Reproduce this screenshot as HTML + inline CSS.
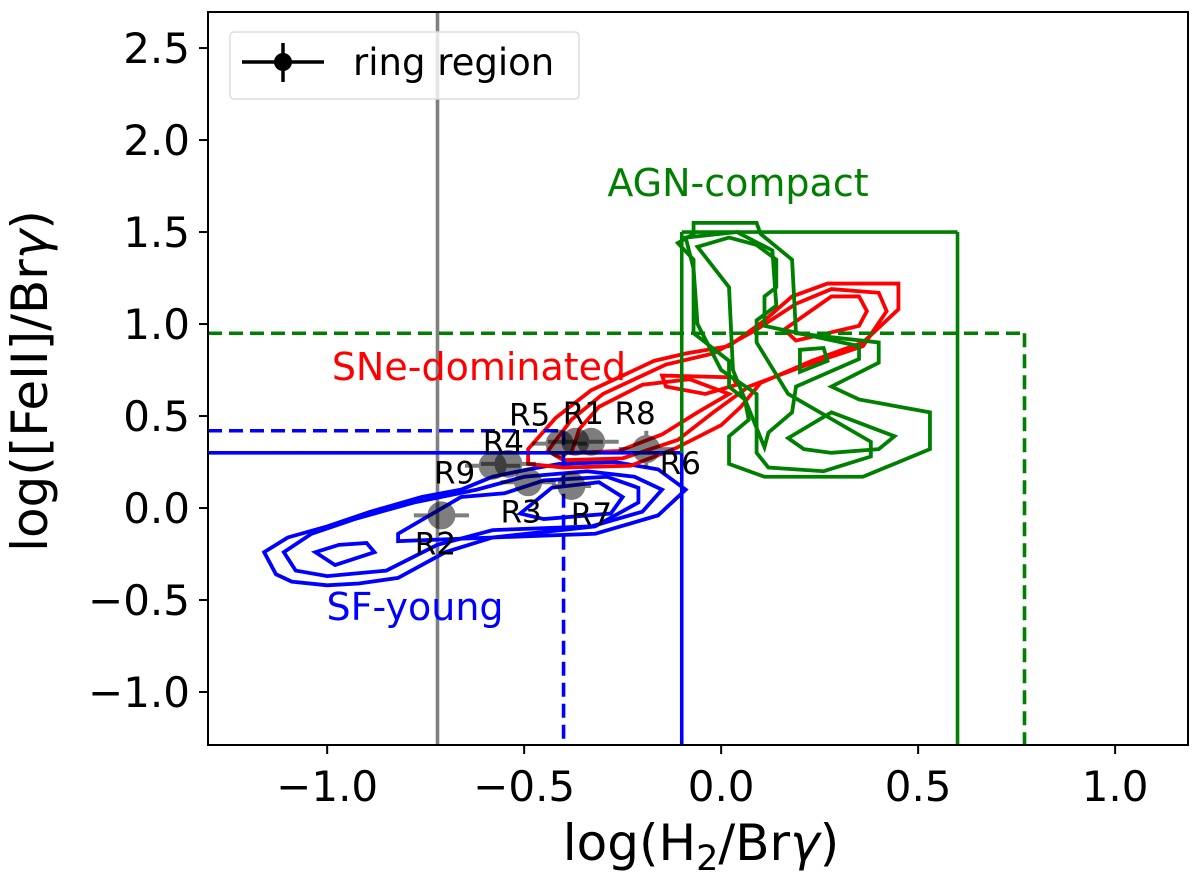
<!DOCTYPE html>
<html><head><meta charset="utf-8"><style>
body{margin:0;background:#fff;}
svg text{font-family:"DejaVu Sans","Liberation Sans",sans-serif;}
</style></head><body>
<svg id="chart" width="1200" height="882" viewBox="0 0 1200 882" xmlns="http://www.w3.org/2000/svg">
<rect width="1200" height="882" fill="#fff"/>
<defs><clipPath id="clip"><rect x="208" y="12" width="980" height="733"/></clipPath></defs>
<g id="marks" clip-path="url(#clip)"></g>
<g id="axes"></g>
</svg>
<script>
const xTicks=[-1.0,-0.5,0.0,0.5,1.0];
const xTickLabels=["\u22121.0","\u22120.5","0.0","0.5","1.0"];
const yTicks=[-1.0,-0.5,0.0,0.5,1.0,1.5,2.0,2.5];
const yTickLabels=["\u22121.0","\u22120.5","0.0","0.5","1.0","1.5","2.0","2.5"];
const pointNames=["R1","R2","R3","R4","R5","R6","R7","R8","R9"];
const pointX=[-0.37,-0.71,-0.49,-0.54,-0.41,-0.19,-0.38,-0.33,-0.58];
const pointY=[0.36,-0.04,0.14,0.24,0.35,0.32,0.12,0.36,0.23];
const errX=[0.07,0.07,0.07,0.07,0.07,0.07,0.05,0.07,0.07];
const errY=[0.07,0.07,0.07,0.07,0.07,0.1,0.07,0.07,0.07];
const labelDx=[8,-6,-7,-5,-30,34,20,44,-38];
const labelDy=[-29,28,29,-22,-29,14,28,-29,7];
const blueContours=[
[[-1.16,-0.24],[-1.13,-0.36],[-1.09,-0.40],[-1.00,-0.42],[-0.92,-0.41],[-0.82,-0.38],[-0.70,-0.24],[-0.58,-0.16],[-0.32,-0.14],[-0.16,-0.04],[-0.09,0.10],[-0.16,0.21],[-0.27,0.25],[-0.41,0.24],[-0.49,0.21],[-0.58,0.17],[-0.66,0.10],[-0.76,0.06],[-0.89,-0.02],[-1.00,-0.10],[-1.10,-0.16]],
[[-1.11,-0.24],[-1.08,-0.34],[-1.00,-0.37],[-0.85,-0.34],[-0.72,-0.20],[-0.58,-0.12],[-0.33,-0.10],[-0.20,-0.02],[-0.15,0.10],[-0.22,0.17],[-0.34,0.20],[-0.50,0.17],[-0.62,0.10],[-0.78,0.03],[-0.93,-0.06],[-1.04,-0.14]],
[[-0.82,-0.14],[-0.82,-0.18],[-0.58,-0.16],[-0.32,-0.10],[-0.21,0.03],[-0.21,0.11],[-0.29,0.17],[-0.45,0.15],[-0.55,0.08],[-0.66,0.06]],
[[-0.51,-0.03],[-0.45,-0.06],[-0.28,-0.03],[-0.25,0.06],[-0.31,0.14],[-0.43,0.11]],
[[-1.03,-0.24],[-0.98,-0.31],[-0.88,-0.24],[-0.90,-0.19],[-0.97,-0.20]]
];
const redContours=[
[[-0.49,0.32],[-0.49,0.24],[-0.40,0.22],[-0.23,0.23],[-0.12,0.32],[0.0,0.45],[0.05,0.55],[0.10,0.68],[0.23,0.80],[0.36,0.90],[0.40,0.98],[0.45,1.08],[0.45,1.22],[0.27,1.22],[0.18,1.15],[0.11,1.02],[0.02,0.88],[-0.09,0.84],[-0.17,0.80],[-0.24,0.73],[-0.27,0.70],[-0.33,0.64],[-0.42,0.49]],
[[-0.44,0.31],[-0.40,0.26],[-0.25,0.27],[-0.11,0.37],[-0.02,0.52],[0.07,0.66],[0.22,0.78],[0.36,0.88],[0.42,1.07],[0.40,1.17],[0.28,1.19],[0.19,1.11],[0.09,0.97],[-0.02,0.84],[-0.14,0.78],[-0.22,0.70],[-0.30,0.62],[-0.38,0.48]],
[[-0.38,0.30],[-0.26,0.31],[-0.15,0.40],[-0.06,0.52],[0.02,0.62],[-0.08,0.70],[-0.20,0.67],[-0.31,0.55],[-0.36,0.43]],
[[-0.15,0.72],[0.03,0.71],[0.04,0.67],[-0.04,0.62],[-0.14,0.66]],
[[0.28,1.15],[0.35,1.15],[0.37,1.07],[0.35,0.99],[0.19,0.91],[0.16,0.97]]
];
const greenContours=[
[[-0.07,1.55],[0.09,1.55],[0.10,1.49],[0.18,1.35],[0.19,0.95],[0.40,0.90],[0.40,0.79],[0.28,0.66],[0.35,0.59],[0.53,0.52],[0.53,0.32],[0.36,0.17],[0.11,0.17],[0.02,0.24],[0.02,0.39],[0.07,0.48],[0.06,0.59],[0.02,0.66],[0.02,0.80],[-0.07,0.95],[-0.07,1.35],[-0.11,1.44],[-0.07,1.49]],
[[-0.09,1.47],[0.04,1.50],[0.13,1.40],[0.14,1.10],[0.09,1.02],[0.09,0.90],[0.17,0.62],[0.38,0.36],[0.38,0.28],[0.26,0.20],[0.12,0.22],[0.09,0.30],[0.09,0.62],[0.00,0.75],[-0.06,1.00],[-0.07,1.30]],
[[-0.06,1.42],[0.02,1.47],[0.09,1.43],[0.14,1.35],[0.14,1.20],[0.11,1.15],[0.11,0.99],[0.35,0.88],[0.35,0.81],[0.19,0.66],[0.18,0.52],[0.12,0.41],[0.11,0.33],[0.03,0.75],[0.02,1.20]],
[[0.17,0.38],[0.28,0.52],[0.44,0.39],[0.40,0.32],[0.28,0.30],[0.21,0.32]],
[[0.20,0.86],[0.26,0.87],[0.27,0.80],[0.20,0.74]]
];
const xMin=-1.3025,xMax=1.185,yMin=-1.288,yMax=2.696;
const L=208,R=1188,T=12,B=745;
const sx=v=>L+(v-xMin)/(xMax-xMin)*(R-L);
const sy=v=>B-(v-yMin)/(yMax-yMin)*(B-T);
const NS="http://www.w3.org/2000/svg";
const marks=document.getElementById('marks'),axes=document.getElementById('axes');
function mk(tag,attrs,parent){const e=document.createElementNS(NS,tag);for(const k in attrs)e.setAttribute(k,attrs[k]);parent.appendChild(e);return e;}
function line(x1,y1,x2,y2,c,dash,name){const e=mk('line',{x1:sx(x1),y1:sy(y1),x2:sx(x2),y2:sy(y2),stroke:c,'stroke-width':3.6,'stroke-dasharray':dash||'none'},marks);

}
line(-0.72,yMin,-0.72,yMax,'#808080','','grey-reference-line');
function poly(arr,c,name){const e=mk('polygon',{points:arr.map(p=>sx(p[0])+','+sy(p[1])).join(' '),fill:'none',stroke:c,'stroke-width':3.8,'stroke-linejoin':'miter'},marks);

}
blueContours.forEach((c,i)=>poly(c,'#0000ff','sf-young-contour'));
redContours.forEach((c,i)=>poly(c,'#ff0000','sne-contour'));
greenContours.forEach((c,i)=>poly(c,'#008000','agn-contour'));
line(xMin,0.3,-0.1,0.3,'#0000ff','','sf-young-solid-boundary');
line(-0.1,0.3,-0.1,yMin,'#0000ff','','sf-young-solid-boundary');
line(xMin,0.42,-0.4,0.42,'#0000ff','14,7','sf-young-dashed-boundary');
line(-0.4,0.42,-0.4,yMin,'#0000ff','14,7','sf-young-dashed-boundary');
line(-0.1,0.3,-0.1,1.5,'#008000','','agn-solid-boundary');
line(-0.1,1.5,0.6,1.5,'#008000','','agn-solid-boundary');
line(0.6,1.5,0.6,yMin,'#008000','','agn-solid-boundary');
line(xMin,0.95,0.77,0.95,'#008000','14,7','agn-dashed-boundary');
line(0.77,0.95,0.77,yMin,'#008000','14,7','agn-dashed-boundary');
pointX.forEach((x,i)=>{const y=pointY[i];
const g=mk('g',{opacity:0.5},marks);


mk('line',{x1:sx(x-errX[i]),y1:sy(y),x2:sx(x+errX[i]),y2:sy(y),stroke:'#000','stroke-width':4},g);
mk('line',{x1:sx(x),y1:sy(y-errY[i]),x2:sx(x),y2:sy(y+errY[i]),stroke:'#000','stroke-width':4},g);
mk('circle',{cx:sx(x),cy:sy(y),r:14,fill:'#000'},g);
const t=mk('text',{x:sx(x)+labelDx[i],y:sy(y)+labelDy[i]+11,'font-size':31,'text-anchor':'middle',fill:'#000'},marks);
t.textContent=pointNames[i];

});
function lab(txt,x,y,c,name){const t=mk('text',{x:x,y:y,'font-size':38,'text-anchor':'middle',fill:c},marks);t.textContent=txt;

}
lab('AGN-compact',738,196,'#008000','agn-compact-label');
lab('SNe-dominated',479,380,'#ff0000','sne-dominated-label');
lab('SF-young',415,620,'#0000ff','sf-young-label');
const fr=mk('rect',{x:L,y:T,width:R-L,height:B-T,fill:'none',stroke:'#000','stroke-width':2},axes);


xTicks.forEach((v,i)=>{mk('line',{x1:sx(v),y1:B,x2:sx(v),y2:B+9,stroke:'#000','stroke-width':2},axes);
const t=mk('text',{x:sx(v),y:B+56,'font-size':42,'text-anchor':'middle'},axes);t.textContent=xTickLabels[i];

});
yTicks.forEach((v,i)=>{mk('line',{x1:L-9,y1:sy(v),x2:L,y2:sy(v),stroke:'#000','stroke-width':2},axes);
const t=mk('text',{x:L-18,y:sy(v)+15,'font-size':42,'text-anchor':'end'},axes);t.textContent=yTickLabels[i];

});
</script>
<svg style="position:absolute;left:0;top:0" width="1200" height="882" xmlns="http://www.w3.org/2000/svg">
<text x="701" y="860" font-size="50" text-anchor="middle" font-family="DejaVu Sans, Liberation Sans, sans-serif">log(H<tspan font-size="35" dy="10">2</tspan><tspan dy="-10">/Br</tspan><tspan font-style="italic">γ</tspan>)</text>
<text transform="translate(47,381) rotate(-90)" font-size="50" text-anchor="middle" font-family="DejaVu Sans, Liberation Sans, sans-serif">log([FeII]/Br<tspan font-style="italic">γ</tspan>)</text>
<g>
<rect x="230" y="32" width="349" height="67" rx="4" fill="rgba(255,255,255,0.8)" stroke="#ddd" stroke-width="1.5"/>
<line x1="242" y1="62" x2="324" y2="62" stroke="#000" stroke-width="3.5"/>
<line x1="283" y1="43" x2="283" y2="82" stroke="#000" stroke-width="3.5"/>
<circle cx="283" cy="62" r="9" fill="#000"/>
<text x="353" y="75" font-size="37" font-family="DejaVu Sans, Liberation Sans, sans-serif">ring region</text>
</g>
</svg>
</body></html>
